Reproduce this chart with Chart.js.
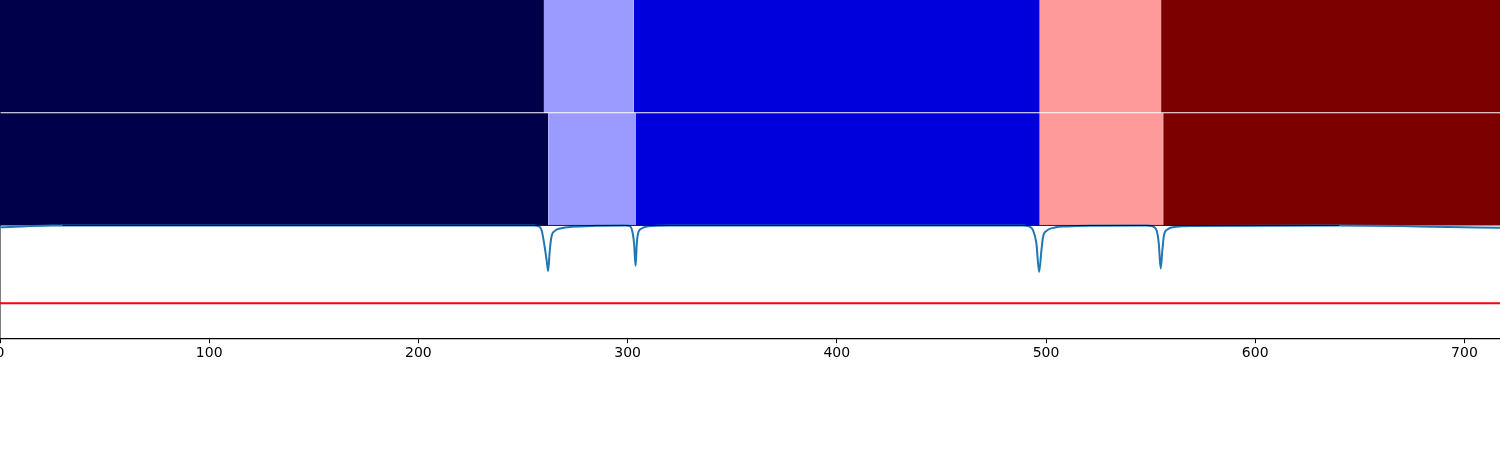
<!DOCTYPE html>
<html>
<head>
<meta charset="utf-8">
<script src="https://cdn.jsdelivr.net/npm/chart.js@4"></script>
<style>
  body { margin: 0; background: #fff; }
  canvas { display: block; }
</style>
</head>
<body>
<canvas id="chart" width="1500" height="450"></canvas>
<script>
// x range and tick labels
const xMin = 0;
const xMax = 717;
const xTicks = [0, 100, 200, 300, 400, 500, 600, 700];

// segment edges for the two label rows (upper and lower)
const row1Edges = [0, 260, 303, 497, 555, 717];
const row2Edges = [0, 262, 304, 497, 556, 717];
const bandColors = ['#00004a', '#9b9bff', '#0000dd', '#ff9a9a', '#7c0000'];

// signal curve
const signalX = [0, 5, 10, 15, 25, 255, 257.3, 258.9, 260.1, 261.3, 262.0, 262.8, 263.6, 265.2, 268.4, 273.2, 285,
  299, 301.1, 302.3, 303.1, 303.8, 304.4, 305.0, 306.7, 309.8, 320,
  489, 491.4, 493.8, 495.4, 496.7, 497.8, 498.6, 500.2, 504.2, 509.8, 520,
  548, 550.4, 552.8, 553.9, 554.8, 555.6, 556.4, 558.0, 562.3, 570,
  640, 670, 685, 717];
const signalY = [0.984, 0.986, 0.99, 0.995, 1.0, 1.0, 0.994, 0.958, 0.84, 0.69, 0.595, 0.78, 0.90, 0.952, 0.976, 0.988, 0.997,
  1.0, 0.994, 0.944, 0.84, 0.642, 0.84, 0.93, 0.973, 0.994, 1.0,
  1.0, 0.994, 0.958, 0.84, 0.588, 0.78, 0.90, 0.952, 0.982, 0.991, 0.998,
  1.0, 0.994, 0.958, 0.84, 0.618, 0.78, 0.914, 0.965, 0.988, 0.996,
  1.0, 0.995, 0.988, 0.979];

// threshold line
const threshold = 0.31;

// rows in y units
const row1Top = 3.0, row1Bottom = 2.004;
const row2Top = 1.995, row2Bottom = 1.0;

const datasets = [];

// each band is a filled line between two x edges
function addBands(edges, top, bottom) {
  for (let i = 0; i < edges.length - 1; i++) {
    datasets.push({
      data: [{ x: edges[i], y: top }, { x: edges[i + 1], y: top }],
      borderWidth: 0,
      borderColor: 'rgba(0,0,0,0)',
      backgroundColor: bandColors[i],
      pointRadius: 0,
      fill: { value: bottom },
      order: 3
    });
  }
}
addBands(row1Edges, row1Top, row1Bottom);
addBands(row2Edges, row2Top, row2Bottom);

datasets.push({
  data: signalX.map((x, i) => ({ x: x, y: signalY[i] })),
  borderColor: '#1f77b4',
  borderWidth: 2,
  pointRadius: 0,
  fill: false,
  cubicInterpolationMode: 'monotone',
  order: 2
});

// dark edge under the rows
datasets.push({
  data: [{ x: 30, y: row2Bottom }, { x: 640, y: row2Bottom }],
  borderColor: 'rgba(0,0,0,0.85)',
  borderWidth: 1,
  pointRadius: 0,
  fill: false,
  order: 1
});

datasets.push({
  data: [{ x: xMin, y: threshold }, { x: xMax, y: threshold }],
  borderColor: '#ff0000',
  borderWidth: 2,
  pointRadius: 0,
  fill: false,
  order: 0
});

new Chart(document.getElementById('chart'), {
  type: 'line',
  data: { datasets: datasets },
  options: {
    responsive: false,
    devicePixelRatio: 1,
    animation: false,
    layout: { padding: { left: 0, right: 0, top: 0, bottom: 86 } },
    plugins: { legend: { display: false }, tooltip: { enabled: false } },
    scales: {
      x: {
        type: 'linear',
        min: xMin,
        max: xMax,
        afterBuildTicks: (scale) => { scale.ticks = xTicks.map(v => ({ value: v })); },
        afterFit: (scale) => { scale.paddingLeft = 0; scale.paddingRight = 0; },
        grid: { drawOnChartArea: false, tickLength: 5, tickColor: '#000', tickWidth: 1 },
        border: { color: '#000', width: 1.2 },
        ticks: {
          color: '#000',
          padding: 2,
          maxRotation: 0,
          autoSkip: false,
          font: { family: 'DejaVu Sans', size: 14 }
        }
      },
      y: {
        type: 'linear',
        min: 0,
        max: 3,
        ticks: { display: false },
        grid: { drawOnChartArea: false, drawTicks: false },
        border: { color: '#000', width: 1.5 }
      }
    }
  }
});
</script>
</body>
</html>
